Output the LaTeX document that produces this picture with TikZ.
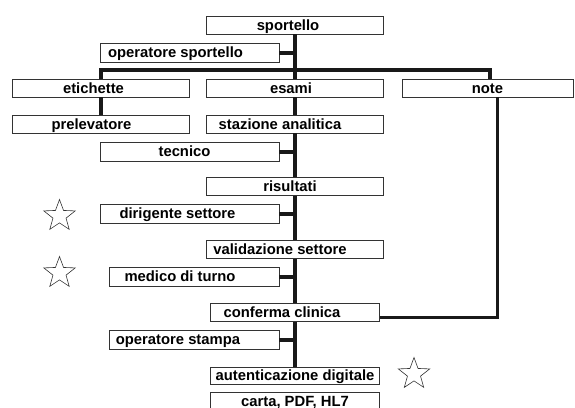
\documentclass[tikz,border=0pt]{standalone}
\usepackage{fontspec}
\setmainfont{Liberation Sans}
\usepackage{tikz}
\usetikzlibrary{shapes, positioning, calc}

\begin{document}
\begin{tikzpicture}[x=1pt, y=-1pt,
    box/.style={draw=black!80, line width=0.8pt, fill=white, inner sep=0pt,
      minimum width=177pt, minimum height=18pt, text height=13pt, text depth=3pt,
      font=\fontsize{14.8}{16}\selectfont\bfseries},
    nudge/.style={execute at begin node={\hspace*{-#1}}},
    wire/.style={line width=4pt, black!90}]
  \useasboundingbox (0,0) rectangle (575,407);

  % Main column
  \node[box, nudge=14pt] (sportello) at (295,25) {sportello};
  \node[box, nudge=8pt] (esami) at (295,88) {esami};
  \node[box, nudge=30pt] (stazione) at (295,124) {stazione analitica};
  \node[box, nudge=10pt] (risultati) at (295,186.5) {risultati};
  \node[box, nudge=30pt] (validazione) at (295,249.5) {validazione settore};
  \node[box, nudge=26pt, minimum width=169pt] (conferma) at (295,312.5) {conferma clinica};
  \node[box, minimum width=169pt, minimum height=17pt] (autent) at (295,375.5) {autenticazione digitale};
  \node[box, minimum width=169pt] (carta) at (295,401) {carta, PDF, HL7};

  % Side boxes
  \node[box, nudge=28pt, minimum width=179pt, minimum height=19pt] (opsport) at (189.5,52.5) {operatore sportello};
  \node[box, nudge=14pt] (etichette) at (100.5,88) {etichette};
  \node[box, nudge=18pt] (prelevatore) at (100.5,124) {prelevatore};
  \node[box, minimum width=171pt] (note) at (487.5,88) {note};
  \node[box, nudge=10pt, minimum width=179pt, minimum height=19pt] (tecnico) at (189.5,151.5) {tecnico};
  \node[box, nudge=24pt, minimum width=179pt, minimum height=19pt] (dirigente) at (189.5,213.5) {dirigente settore};
  \node[box, nudge=28pt, minimum width=170pt, minimum height=19pt] (medico) at (194,276.5) {medico di turno};
  \node[box, nudge=32pt, minimum width=170pt, minimum height=19pt] (opstampa) at (194,339.5) {operatore stampa};

  % Branch bar
  \coordinate (barL) at (101,70);
  \coordinate (barR) at (490,70);
  \draw[wire] (etichette.north -| barL) -- (barL) -- (barR) -- (barR |- note.north);
  \draw[wire] (etichette.south -| barL) -- (prelevatore.north -| barL);

  % Main vertical line
  \draw[wire] (sportello.south) -- (esami.north);
  \draw[wire] (esami.south) -- (stazione.north);
  \draw[wire] (stazione.south) -- (risultati.north);
  \draw[wire] (risultati.south) -- (validazione.north);
  \draw[wire] (validazione.south) -- (conferma.north);
  \draw[wire] (conferma.south) -- (autent.north);

  % Stubs from the side boxes
  \foreach \s in {opsport, tecnico, dirigente, medico, opstampa}
    \draw[wire] (\s.east) -- (\s.east -| sportello.south);

  % Note to clinical confirmation
  \coordinate (nc) at ($(conferma.south east)+(0,-4)$);
  \draw[line width=3pt, black!90] ($(note.south)+(9.5,0)$) |- (nc);

  % Stars
  \foreach \p/\n in {{(59.5,216)}/st1, {(59.5,273)}/st2, {(414,374)}/st3}
    \node[star, star points=5, star point ratio=2.4, draw=black!80, line width=0.6pt,
      minimum size=33pt, inner sep=0pt] (\n) at \p {};
\end{tikzpicture}
\end{document}
